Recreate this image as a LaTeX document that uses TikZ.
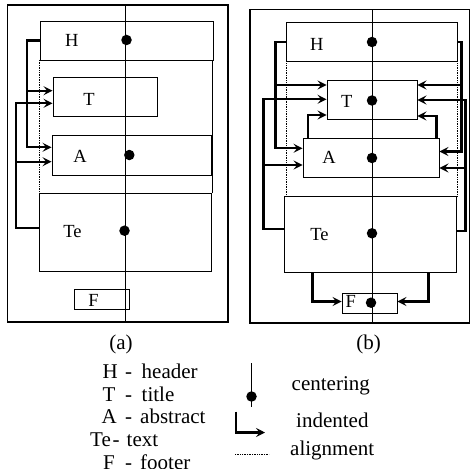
\documentclass[tikz,border=0pt]{standalone}
\usepackage{fontspec}
\setmainfont{Liberation Serif}
\usetikzlibrary{arrows.meta}
\newcommand\boxfont{\fontsize{18.5}{18.5}\selectfont}
\newcommand\legfont{\fontsize{21}{21}\selectfont}
\tikzset{
  pbox/.style={draw, line width=0.9pt, inner sep=0pt},
  lbl/.style={font=\boxfont, inner sep=0pt},
  leg/.style={font=\legfont, inner sep=0pt, anchor=base west},
  conn/.style={line width=2.1pt, -{Stealth[length=9pt,width=9pt,inset=3.5pt]}},
  cdot/.style={circle, fill, inner sep=0pt, minimum size=10.5pt},
  axis/.style={line width=0.8pt},
  page/.style={line width=1.2pt},
  guide/.style={line width=0.7pt, densely dotted}
}

\begin{document}
\begin{tikzpicture}[x=1pt,y=-1pt]
\useasboundingbox (0,0) rectangle (470,468);
\begin{scope}
\draw[page] (7.5,5) rectangle (228,322);
\draw[axis] (125,5) -- (125,322);
\node[pbox, minimum width=173pt, minimum height=39pt] (aH) at (126.5,40.5) {};
\node[pbox, minimum width=104pt, minimum height=39pt] (aT) at (105,97) {};
\node[pbox, minimum width=159pt, minimum height=40pt] (aA) at (131.5,155) {};
\node[pbox, minimum width=171.5pt, minimum height=78pt] (aTe) at (125.25,232) {};
\node[pbox, minimum width=55pt, minimum height=20pt] (aF) at (101.5,299) {};
\draw[guide] (39.5,60) -- (39.5,193);
\draw[line width=0.7pt] (212.5,60) -- (212.5,193);
\node[lbl] (aHt) at (71.7,40.5) {H};
\node[lbl] (aTt) at (89,99.5) {T};
\node[lbl] (aAt) at (80,156) {A};
\node[lbl] (aTet) at (72.5,231.5) {Te};
\node[lbl] (aFt) at (93.5,300.5) {F};
\node[cdot] (aHd) at (126.5,40) {};
\node[cdot] (aAd) at (129.3,155) {};
\node[cdot] (aTed) at (124.5,230.7) {};
\draw[conn] (aH.west) -| (27,147.3) -- (aA.west |- 0,147.3);
\draw[conn] (27,90.7) -- (aT.west |- 0,90.7);
\draw[conn] (aTe.west |- 0,228.3) -| (16,103.3) -- (aT.west |- 0,103.3);
\draw[conn] (16,161.7) -- (aA.west |- 0,161.7);
\end{scope}
\begin{scope}
\draw[page] (250,9.5) rectangle (469.5,323);
\draw[axis] (372,9.5) -- (372,323);
\node[pbox, minimum width=171pt, minimum height=39pt] (bH) at (372,42) {};
\node[pbox, minimum width=90pt, minimum height=38.5pt] (bT) at (372,100) {};
\node[pbox, minimum width=136pt, minimum height=38.5pt] (bA) at (371,157.75) {};
\node[pbox, minimum width=171.5pt, minimum height=76pt] (bTe) at (370.25,234.5) {};
\node[pbox, minimum width=55pt, minimum height=20pt] (bF) at (369.5,303) {};
\draw[guide] (286.5,61.5) -- (286.5,196.5);
\draw[guide] (457,61.5) -- (457,196.5);
\node[lbl] (bHt) at (316.7,44) {H};
\node[lbl] (bTt) at (346.7,101) {T};
\node[lbl] (bAt) at (329,157.5) {A};
\node[lbl] (bTet) at (319.5,235) {Te};
\node[lbl] (bFt) at (350.8,301.7) {F};
\node[cdot] (bHd) at (372,42) {};
\node[cdot] (bTd) at (372,100.5) {};
\node[cdot] (bAd) at (372,158) {};
\node[cdot] (bTed) at (372,233.3) {};
\node[cdot] (bFd) at (371,302.7) {};
\draw[conn] (bH.west) -| (275.5,148.3) -- (bA.west |- 0,148.3);
\draw[conn] (275.5,85) -- (bT.west |- 0,85);
\draw[conn] (bTe.west |- 0,229) -| (263.5,99.3) -- (bT.west |- 0,99.3);
\draw[conn] (263.5,165) -- (bA.west |- 0,165);
\draw[conn] (bA.north -| 308,0) |- (bT.west |- 0,115);
\draw[conn] (bH.east) -| (461.5,151.5) -- (bA.east |- 0,151.5);
\draw[conn] (461.5,85) -- (bT.east |- 0,85);
\draw[conn] (bTe.east |- 0,231) -| (465.5,100) -- (bT.east |- 0,100);
\draw[conn] (465.5,168) -- (bA.east |- 0,168);
\draw[conn] (bA.north -| 436.5,0) |- (bT.east |- 0,116);
\draw[conn] (bTe.south -| 312.5,0) |- (bF.west |- 0,301.5);
\draw[conn] (bTe.south -| 428.5,0) |- (bF.east |- 0,301.5);
\end{scope}
\node[font=\legfont, inner sep=0pt, anchor=base] (capa) at (121,349) {(a)};
\node[font=\legfont, inner sep=0pt, anchor=base] (capb) at (368.5,349) {(b)};
\node[leg] (kH) at (102.5,378.5) {H};
\node[leg] (kHd) at (125,378.5) {-};
\node[leg] (kHw) at (141.5,378.5) {header};
\node[leg] (kT) at (102.5,401) {T};
\node[leg] (kTd) at (125,401) {-};
\node[leg] (kTw) at (141.5,401) {title};
\node[leg] (kA) at (101.5,423.5) {A};
\node[leg] (kAd) at (125,423.5) {-};
\node[leg] (kAw) at (140,423.5) {abstract};
\node[leg] (kTe) at (90,446) {Te};
\node[leg] (kTed) at (112.5,446) {-};
\node[leg] (kTew) at (126.5,446) {text};
\node[leg] (kF) at (103,469.5) {F};
\node[leg] (kFd) at (125,469.5) {-};
\node[leg] (kFw) at (140,469.5) {footer};
\coordinate (cenA) at (251.5,363);
\coordinate (cenB) at (251.5,407);
\draw[axis] (cenA) -- (cenB);
\node[cdot] (cenD) at (251.5,396.5) {};
\node[leg] (kcen) at (291.5,390) {centering};
\coordinate (indA) at (236,411.5);
\coordinate (indB) at (265,432.5);
\draw[conn] (indA) |- (indB);
\node[leg] (kind) at (296,427.5) {indented};
\coordinate (alnA) at (235,454);
\coordinate (alnB) at (269,454);
\draw[guide] (alnA) -- (alnB);
\node[leg] (kaln) at (290,455) {alignment};
\end{tikzpicture}
\end{document}
